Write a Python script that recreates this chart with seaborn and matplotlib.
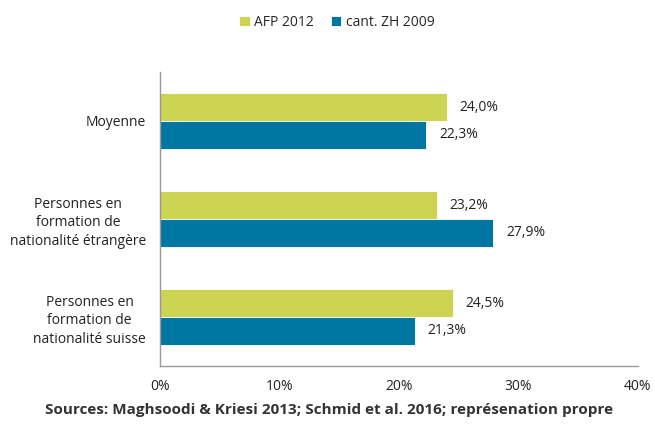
import matplotlib
matplotlib.use("Agg")
import matplotlib.pyplot as plt
import seaborn as sns
import pandas as pd

categories = ["Moyenne", "Personnes en\nformation de\nnationalité étrangère", "Personnes en\nformation de\nnationalité suisse"]
series = ["AFP 2012", "cant. ZH 2009"]
afp_2012 = [24.0, 23.2, 24.5]
zh_2009 = [22.3, 27.9, 21.3]
x_ticks = [0, 10, 20, 30, 40]
x_tick_labels = ["0%", "10%", "20%", "30%", "40%"]
colors = ["#CDD452", "#0077A3"]
source = "Sources: Maghsoodi & Kriesi 2013; Schmid et al. 2016; représenation propre"

sns.set_theme(style="white")
plt.rcParams["font.family"] = ["Open Sans", "DejaVu Sans"]

df = pd.DataFrame({
    "cat": categories * 2,
    "series": [series[0]] * 3 + [series[1]] * 3,
    "value": afp_2012 + zh_2009,
})

fig = plt.figure(figsize=(6.55, 4.34), dpi=100)
ax = fig.add_axes([160/655, 1-366/434, (638-160)/655, (366-72)/434])
sns.barplot(data=df, y="cat", x="value", hue="series", palette=colors,
            width=0.57, ax=ax, saturation=1, orient="h", legend=True,
            edgecolor="white", linewidth=0.6)

for cont in ax.containers:
    ax.bar_label(cont, labels=[f"{v:.1f}%".replace(".", ",") for v in cont.datavalues],
                 padding=9, fontsize=10, color="#222222")

ax.set_xlim(0, 40)
ax.set_ylim(2.5, -0.5)
ax.set_xticks(x_ticks)
ax.set_xticklabels(x_tick_labels, fontsize=10, color="#222222")
ax.tick_params(axis="y", labelsize=10, colors="#222222", length=0, pad=10)
ax.tick_params(axis="x", direction="inout", length=8, width=1, color="#999999", pad=5)
for lab in ax.get_yticklabels():
    lab.set_multialignment("center")
    lab.set_linespacing(1.35)
ax.set_xlabel("")
ax.set_ylabel("")
for s in ["top", "right"]:
    ax.spines[s].set_visible(False)
for s in ["left", "bottom"]:
    ax.spines[s].set_color("#999999")
    ax.spines[s].set_linewidth(1)

handles, labels = ax.get_legend_handles_labels()
ax.legend_.remove()
fig.legend(handles, labels, loc="center", bbox_to_anchor=(337/655, 1-22/434), ncol=2,
           frameon=False, fontsize=10, handlelength=0.75, handleheight=0.75,
           handletextpad=0.35, columnspacing=1.2)

fig.text(329/655, 1-410/434, source, ha="center", va="center", fontsize=11,
         fontweight="bold", color="#333333")

fig.savefig("out.png", dpi=100)
